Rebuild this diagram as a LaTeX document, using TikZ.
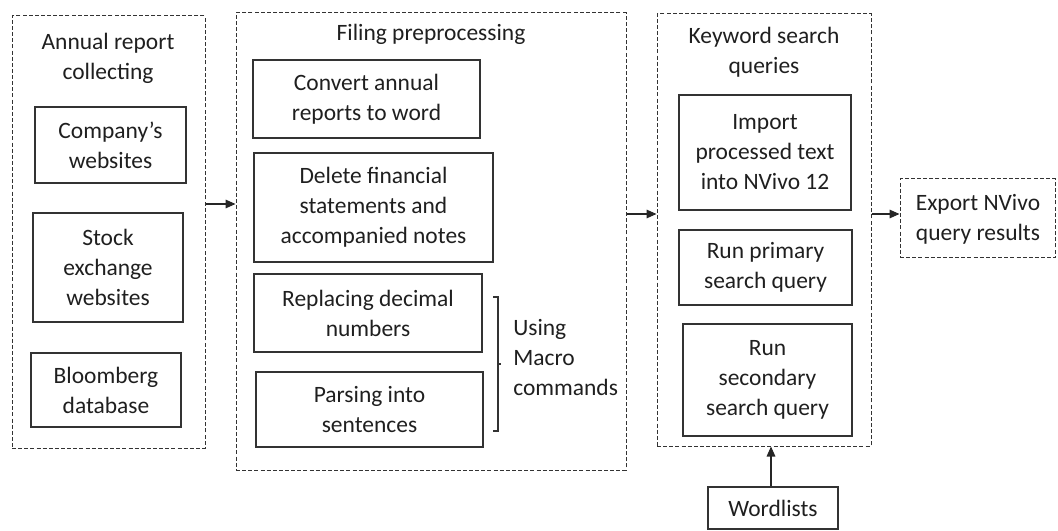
\documentclass[tikz,border=0pt]{standalone}
\usepackage{fontspec}
\setmainfont{Carlito}
\usetikzlibrary{arrows.meta,fit}
\begin{document}
\begin{tikzpicture}[x=0.75pt,y=-0.75pt,
  every node/.style={font=\fontsize{17.6}{22.5}\selectfont, text=black!88, align=center},
  box/.style={draw=black!80, line width=0.85pt, inner sep=0pt},
  grp/.style={draw=black!80, line width=0.75pt, dash pattern=on 3pt off 1.6pt, inner sep=0pt},
  arr/.style={draw=black!85, line width=0.8pt, -{Triangle[length=7.5pt,width=6.5pt]}},
  lbl/.style={inner sep=0pt}]
\useasboundingbox (0,0) rectangle (1058,531);
% groups
\node[grp, fit={(12,16)(205,448)}] (g1) {};
\node[grp, fit={(236,13)(626,470)}] (g2) {};
\node[grp, fit={(657,14)(871,446)}] (g3) {};
\node[grp, fit={(900,179)(1055,258)}] (g4) {};
% titles
\node[lbl] (t1) at (108,58) {Annual report\\collecting};
\node[lbl] (t2) at (431,34) {Filing preprocessing};
\node[lbl] (t3) at (764,52) {Keyword search\\queries};
\node[lbl] (t4) at (978,219) {Export NVivo\\query results};
% group 1 boxes
\node[box, fit={(35,107)(186,183)}] (b1) {};
\node[lbl] at (b1.center) {Company’s\\websites};
\node[box, fit={(33,213)(183,322)}] (b2) {};
\node[lbl] at (b2.center) {Stock\\exchange\\websites};
\node[box, fit={(31,353)(181,427)}] (b3) {};
\node[lbl] at (b3.center) {Bloomberg\\database};
% group 2 boxes
\node[box, fit={(253,60)(480,138)}] (c1) {};
\node[lbl] at (c1.center) {Convert annual\\reports to word};
\node[box, fit={(254,153)(493,262)}] (c2) {};
\node[lbl] at (c2.center) {Delete financial\\statements and\\accompanied notes};
\node[box, fit={(254,274)(482,352)}] (c3) {};
\node[lbl] at (c3.center) {Replacing decimal\\numbers};
\node[box, fit={(256,372)(483,447)}] (c4) {};
\node[lbl] at (c4.center) {Parsing into\\sentences};
% bracket
\coordinate (bt) at (493,297);
\coordinate (bb) at (493,431);
\draw[draw=black!80, line width=0.8pt] (bt) -- (498,297) -- (498,431) -- (bb);
\draw[draw=black!80, line width=0.8pt] (498,364) -- (501,364);
\node[lbl, anchor=west, align=left] (mac) at (513,358) {Using\\Macro\\commands};
% group 3 boxes
\node[box, fit={(679,95)(851,210)}] (d1) {};
\node[lbl] at (d1.center) {Import\\processed text\\into NVivo 12};
\node[box, fit={(679,230)(852,305)}] (d2) {};
\node[lbl] at (d2.center) {Run primary\\search query};
\node[box, fit={(683,324)(852,436)}] (d3) {};
\node[lbl] at (d3.center) {Run\\secondary\\search query};
% wordlists
\node[box, fit={(708,487)(838,529)}] (w) {};
\node[lbl] at (w.center) {Wordlists};
% connectors
\draw[arr] (g1.east |- 0,204) -- (g2.west |- 0,204);
\draw[arr] (g2.east |- 0,214) -- (g3.west |- 0,214);
\draw[arr] (g3.east |- 0,214) -- (g4.west |- 0,214);
\draw[arr] (w.north -| 771,0) -- (g3.south -| 771,0);
\end{tikzpicture}
\end{document}
